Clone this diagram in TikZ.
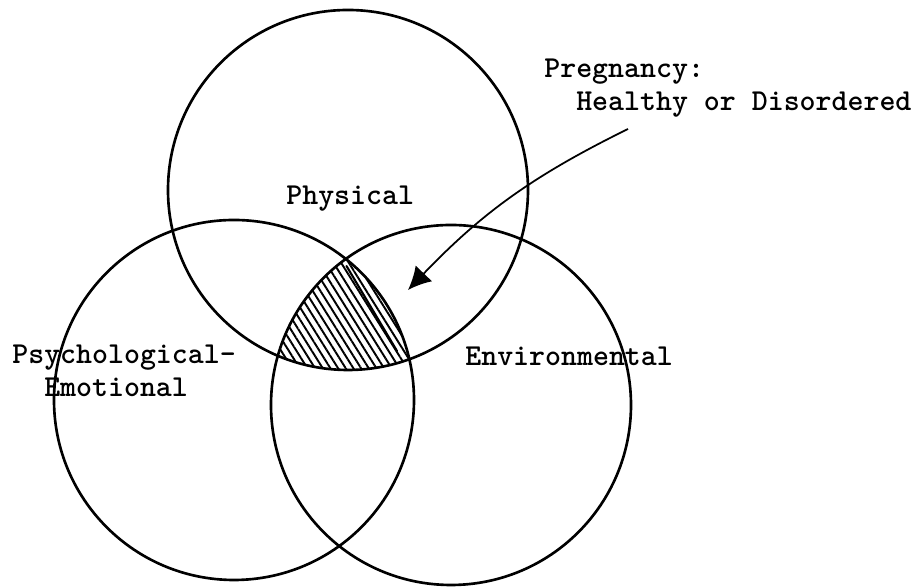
\documentclass[tikz,border=0pt]{standalone}
\usepackage{fontspec}
\usepackage{tkz-euclide}
\usetikzlibrary{arrows.meta,patterns.meta}
\tikzset{
  label text/.style={font=\ttfamily\bfseries\fontsize{17.3}{18.8}\selectfont,inner sep=0pt,anchor=base west,align=left},
}

\begin{document}
\begin{tikzpicture}
\useasboundingbox (0,0) rectangle (18.32,11.76);

\tkzDefPoints{6.96/7.96/T,10.56/7.96/t,4.68/3.76/L,8.28/3.76/l,9.02/3.66/R,12.62/3.66/r}
\tkzDefPoints{6.93/6.44/H1,7.94/4.74/H2,12.56/9.18/A,8.16/5.96/B}

% shaded common part
\begin{scope}
\tkzClipCircle(T,t)
\tkzClipCircle(L,l)
\tkzClipCircle(R,r)
\fill[pattern={Lines[angle=122,distance=3.7pt,line width=1.1pt]}] (4,3) rectangle (10,8);
\end{scope}
\tkzDrawSegment[line width=1.2pt](H1,H2)

\tkzDrawCircles[line width=1.5pt,color=black](T,t L,l R,r)

\draw[line width=1pt,-{Latex[length=13pt,width=13pt]}] (A) to[bend right=10] (B);

\node[label text] (physical) at (5.72,7.66) {Physical};
\node[label text] (psych) at (0.24,3.82) {Psychological-\\\hspace*{1.05em}Emotional};
\node[label text] (environ) at (9.30,4.44) {Environmental};
\node[label text] (pregnancy) at (10.88,9.54) {Pregnancy:\\\hspace*{1.05em}Healthy or Disordered};

\end{tikzpicture}
\end{document}
